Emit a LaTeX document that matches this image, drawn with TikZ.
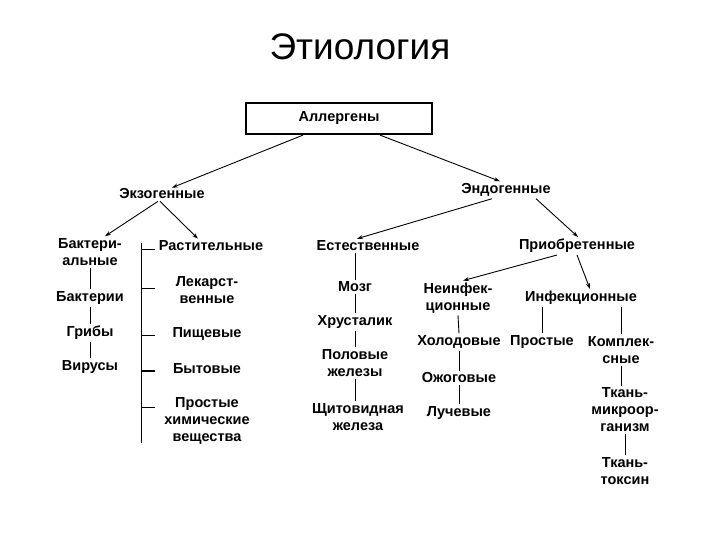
\documentclass[tikz,border=0pt]{standalone}
\usepackage{fontspec}
\setmainfont{Liberation Sans}
\usetikzlibrary{arrows.meta,calc}
\begin{document}
\begin{tikzpicture}[x=1pt,y=-1pt,
  lbl/.style={font=\fontsize{14.5}{17}\selectfont\bfseries, align=center, inner sep=2pt},
  arr/.style={-{Stealth[length=6pt,width=4pt]}, line width=0.9pt},
  ln/.style={line width=0.9pt}]
\useasboundingbox[fill=white] (0,0) rectangle (720,540);
\node[font=\fontsize{37}{42}\selectfont] (title) at (360,47) {Этиология};
\node[draw, line width=2.2pt, minimum width=186pt, minimum height=31pt, lbl] (al) at (339,118.5) {Аллергены};
% level 1
\node[lbl] (exo) at (162,194) {Экзогенные};
\node[lbl] (endo) at (506,190) {Эндогенные};
% exogenous
\node[lbl] (bakt) at (90,252) {Бактери-\\альные};
\node[lbl] (bakt1) at (90,298) {Бактерии};
\node[lbl] (grib) at (90,333) {Грибы};
\node[lbl] (vir) at (90,367) {Вирусы};
\node[lbl] (rast) at (211,246) {Растительные};
\node[lbl] (lek) at (207,290) {Лекарст-\\венные};
\node[lbl] (pish) at (207,334) {Пищевые};
\node[lbl] (byt) at (207,369) {Бытовые};
\node[lbl] (prost) at (207,421) {Простые\\химические\\вещества};
% endogenous natural
\node[lbl] (est) at (368,246) {Естественные};
\node[lbl] (mozg) at (355,287) {Мозг};
\node[lbl] (hrus) at (355,322) {Хрусталик};
\node[lbl] (pol) at (355,363) {Половые\\железы};
\node[lbl] (shit) at (358,417) {Щитовидная\\железа};
% acquired
\node[lbl] (priob) at (577,246) {Приобретенные};
\node[lbl] (neinf) at (458,298) {Неинфек-\\ционные};
\node[lbl] (inf) at (581,298) {Инфекционные};
\node[lbl] (hol) at (459,342) {Холодовые};
\node[lbl] (ozh) at (459,378) {Ожоговые};
\node[lbl] (luch) at (459,413) {Лучевые};
\node[lbl] (pr2) at (542,342) {Простые};
\node[lbl] (kompl) at (621,350) {Комплек-\\сные};
\node[lbl] (tm) at (625,410) {Ткань-\\микроор-\\ганизм};
\node[lbl] (tt) at (625,471) {Ткань-\\токсин};
% arrows
\draw[arr] ($(al.south)+(-36,0)$) -- ($(exo.north)+(10,1)$);
\draw[arr] ($(al.south)+(41,0)$) -- ($(endo.north)+(-6,0)$);
\draw[arr] ($(exo.south)+(-4,0)$) -- ($(bakt.north)+(15,0)$);
\draw[arr] ($(exo.south)+(-2,0)$) -- ($(rast.north)+(-13,0)$);
\draw[arr] ($(endo.south)+(-14,0)$) -- ($(est.north)+(-11,0)$);
\draw[arr] ($(endo.south)+(30,0)$) -- ($(priob.north)+(1,0)$);
\draw[arr] ($(priob.south)+(-20,0)$) -- ($(neinf.north)+(5,0)$);
\draw[arr] (priob.south) -- ($(inf.north)+(9,0)$);
% vertical chains
\draw[ln] (bakt.south) -- (bakt1.north);
\draw[ln] (bakt1.south) -- (grib.north);
\draw[ln] (grib.south) -- (vir.north);
\draw[ln] (mozg.north) -- (mozg.north |- est.south);
\draw[ln] (mozg.south) -- (hrus.north);
\draw[ln] (hrus.south) -- (pol.north);
\draw[ln] (pol.south) -- (pol.south |- shit.north);
\draw[ln] (neinf.south) -- (hol.north);
\draw[ln] (hol.south) -- (ozh.north);
\draw[ln] (ozh.south) -- (luch.north);
\draw[ln] (pr2.north) -- (pr2.north |- inf.south);
\draw[ln] (kompl.north) -- (kompl.north |- inf.south);
\draw[ln] (kompl.south) -- (kompl.south |- tm.north);
\draw[ln] (tm.south) -- (tm.south |- tt.north);
% bracket bar
\coordinate (bt) at (141,243);
\coordinate (bb) at (141,443);
\draw[ln] (bt) -- (bb);
\draw[ln] ($(bt |- rast)+(0,3)$) -- ++(14,0);
\draw[ln] ($(bt |- lek)+(0,-2)$) -- ++(14,0);
\draw[ln] ($(bt |- pish)+(0,1)$) -- ++(14,0);
\draw[line width=1.6pt] ($(bt |- byt)+(0,2)$) -- ++(14,0);
\draw[ln] ($(bt |- prost.north)+(0,12)$) -- ++(14,0);
\end{tikzpicture}
\end{document}
